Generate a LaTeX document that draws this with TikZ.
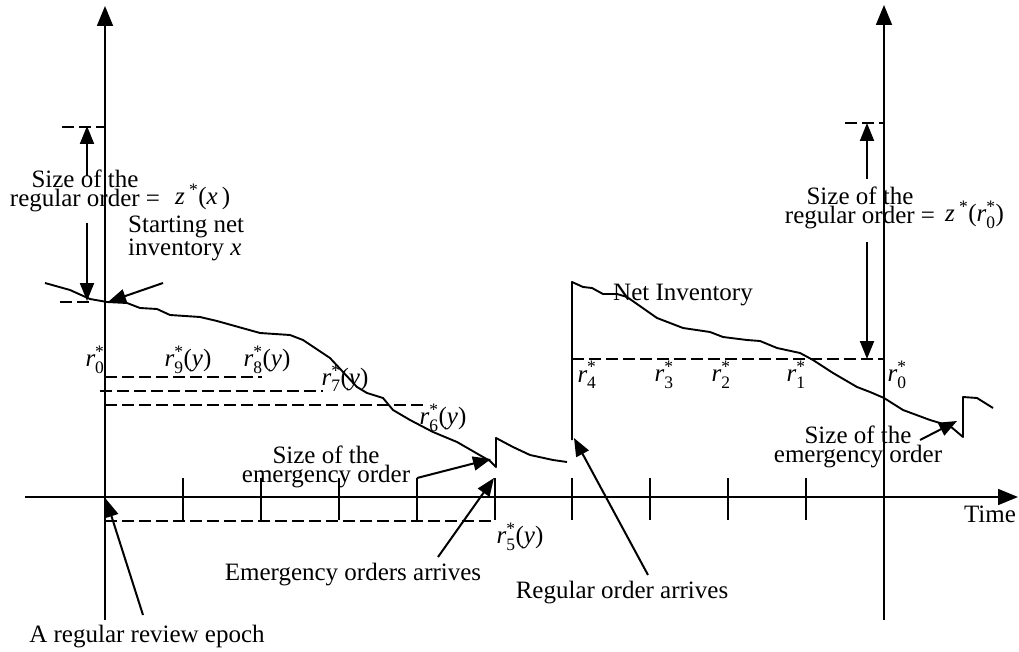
\documentclass[tikz,border=0pt]{standalone}
\usepackage{amsmath}
\usepackage{fontspec}
\setmainfont{Liberation Serif}
\usetikzlibrary{arrows.meta}
\newcommand\rst[1]{$\textit{r}^{\text{*}}_{\text{#1}}$}

\begin{document}
\begin{tikzpicture}[x=1pt,y=-1pt,
  ax/.style={line width=1.8pt,-{Triangle[length=20pt,width=16pt]}},
  tk/.style={line width=1.6pt},
  inv/.style={line width=1.9pt,line join=round},
  dsh/.style={line width=1.4pt,dash pattern=on 12pt off 5pt},
  lead/.style={line width=2pt,-{Triangle[length=18pt,width=14pt]}},
  txt/.style={inner sep=0pt,font=\fontsize{25}{19}\selectfont,align=center},
  lbl/.style={inner sep=0pt,font=\fontsize{25}{15}\selectfont}
]
  \useasboundingbox (0,0) rectangle (1019,652);
  % Axes
  \coordinate (lb) at (105,620);
  \coordinate (lt) at (105,6);
  \coordinate (rb) at (884,620);
  \coordinate (rt) at (884,5);
  \coordinate (t0) at (25,497);
  \coordinate (t1) at (1018,497);
  \draw[ax] (lb) -- (lt);
  \draw[ax] (rb) -- (rt);
  \draw[ax] (t0) -- (t1);
  \foreach \x in {183,261,339,417,495,572,650,728,806}
    \draw[tk] (\x,478) -- (\x,520);
  % Net inventory
  \draw[inv] (45,283) -- (70,290) -- (90,299) -- (107,302) -- (127,303) -- (140,308)
    -- (157,309) -- (170,315) -- (200,317) -- (217,321) -- (260,333) -- (290,335)
    -- (303,340) -- (330,358) -- (357,387) -- (367,393) -- (383,398) -- (393,410)
    -- (410,420) -- (433,432) -- (457,442) -- (490,461) -- (496,467) -- (496,438)
    -- (513,447) -- (530,455) -- (553,460) -- (567,462);
  \draw[inv] (572,440) -- (572,282) -- (583,287) -- (592,288) -- (603,294) -- (617,294)
    -- (627,297) -- (657,318) -- (683,328) -- (710,332) -- (723,337) -- (747,340)
    -- (760,341) -- (777,348) -- (800,353) -- (813,360) -- (833,373) -- (857,387)
    -- (870,392) -- (884,398) -- (903,410) -- (930,420) -- (950,426) -- (963,437)
    -- (963,397) -- (977,398) -- (993,408);
  % Reorder levels
  \draw[dsh] (62,127) -- (105,127);
  \draw[dsh] (60,302) -- (92,302);
  \draw[dsh] (105,377) -- (262,377);
  \draw[dsh] (100,391) -- (323,391);
  \draw[dsh] (105,405) -- (423,405);
  \draw[dsh] (105,521) -- (495,521);
  \draw[dsh] (572,359) -- (884,359);
  \draw[dsh] (845,123) -- (884,123);
  % Labels
  \node[txt] (regL) at (85,191) {Size of the\\regular order =};
  \node[lbl,anchor=base west] (zx) at (175,205) {\textit{z}\,\textsuperscript{*}(\textit{x}\,)};
  \node[txt,align=left,anchor=west] (start) at (128,238) {Starting net\\inventory \textit{x}};
  \node[lbl] (r0L) at (95,360) {\rst{0}};
  \node[lbl] (r9) at (188,360) {\rst{9}(\textit{y})};
  \node[lbl] (r8) at (267,360) {\rst{8}(\textit{y})};
  \node[lbl] (r7) at (345,378) {\rst{7}(\textit{y})};
  \node[lbl] (r6) at (443,418) {\rst{6}(\textit{y})};
  \node[lbl] (r5) at (520,537) {\rst{5}(\textit{y})};
  \node[txt] (emg) at (326,467) {Size of the\\emergency order};
  \node[txt,anchor=base] (emgArr) at (353,580) {Emergency orders arrives};
  \node[txt,anchor=base] (regArr) at (622,598) {Regular order arrives};
  \node[txt,anchor=base] (epoch) at (147,642) {A regular review epoch};
  \node[txt,anchor=base] (time) at (990,522) {Time};
  \node[txt,anchor=base] (net) at (683,300) {Net Inventory};
  \node[lbl] (r4) at (587,375) {\rst{4}};
  \node[lbl] (r3) at (664,375) {\rst{3}};
  \node[lbl] (r2) at (721,375) {\rst{2}};
  \node[lbl] (r1) at (796,375) {\rst{1}};
  \node[lbl] (r0R) at (897,375) {\rst{0}};
  \node[txt] (regR) at (860,208) {Size of the\\regular order =};
  \node[lbl,anchor=base west] (zr) at (945,222) {\textit{z}\,\textsuperscript{*}(\rst{0})};
  \node[txt] (emgR) at (858,447) {Size of the\\emergency order};
  % Pointers
  \coordinate (upL0) at (87,176);
  \coordinate (upL1) at (87,126);
  \coordinate (dnL0) at (87,223);
  \coordinate (dnL1) at (87,301);
  \coordinate (upR0) at (867,179);
  \coordinate (upR1) at (867,123);
  \coordinate (dnR0) at (867,242);
  \coordinate (dnR1) at (867,359);
  \coordinate (sn0) at (163,283);
  \coordinate (sn1) at (108,302);
  \coordinate (eo0) at (417,478);
  \coordinate (eo1) at (491,459);
  \coordinate (ea0) at (438,557);
  \coordinate (ea1) at (494,478);
  \coordinate (ra0) at (648,575);
  \coordinate (ra1) at (574,438);
  \coordinate (ep0) at (143,615);
  \coordinate (ep1) at (106,499);
  \coordinate (er0) at (920,440);
  \coordinate (er1) at (957,421);
  \draw[lead] (upL0) -- (upL1);
  \draw[lead] (dnL0) -- (dnL1);
  \draw[lead] (upR0) -- (upR1);
  \draw[lead] (dnR0) -- (dnR1);
  \draw[lead] (sn0) -- (sn1);
  \draw[lead] (eo0) -- (eo1);
  \draw[lead] (ea0) -- (ea1);
  \draw[lead] (ra0) -- (ra1);
  \draw[lead] (ep0) -- (ep1);
  \draw[lead] (er0) -- (er1);
\end{tikzpicture}
\end{document}
